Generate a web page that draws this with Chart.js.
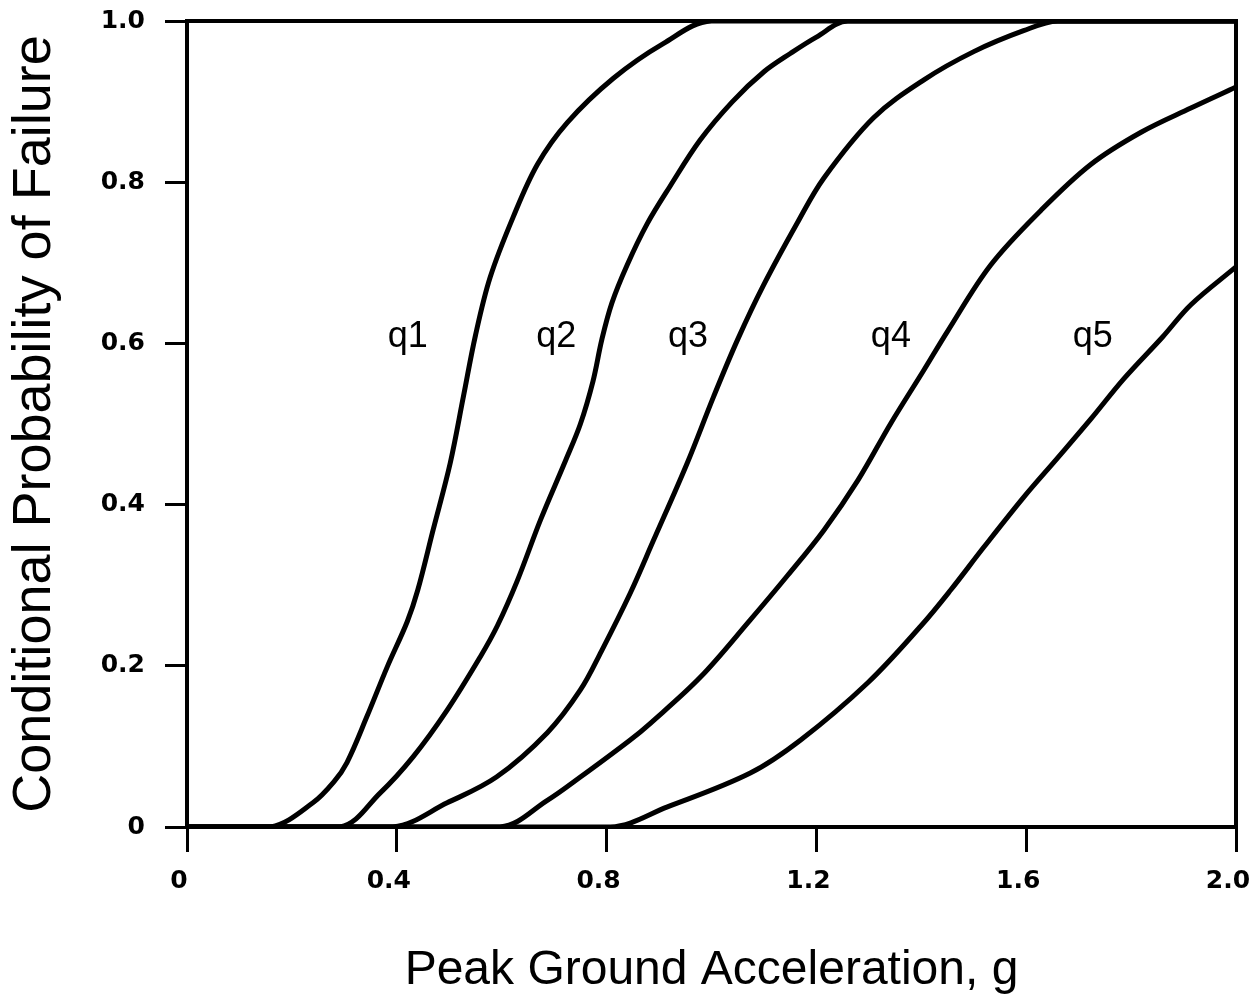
<!DOCTYPE html>
<html>
<head>
<meta charset="utf-8">
<script src="https://cdn.jsdelivr.net/npm/chart.js@4"></script>
<style>
  html, body { margin: 0; padding: 0; background: #ffffff; }
  #wrap { width: 1255px; height: 1000px; }
</style>
</head>
<body>
<div id="wrap"><canvas id="c" width="1255" height="1000"></canvas></div>
<script>
// ---- data ----
const xTickLabels = ["0", "0.4", "0.8", "1.2", "1.6", "2.0"];
const yTickLabels = ["0", "0.2", "0.4", "0.6", "0.8", "1.0"];

const pgaQ1  = [0, 0.16, 0.24, 0.28, 0.305, 0.343, 0.382, 0.42, 0.44, 0.469, 0.502, 0.527, 0.55, 0.578, 0.622, 0.668, 0.725, 0.813, 0.908, 1.0, 2.0];
const probQ1 = [0, 0, 0.03, 0.056, 0.08, 0.137, 0.199, 0.255, 0.294, 0.368, 0.452, 0.534, 0.61, 0.682, 0.757, 0.822, 0.874, 0.929, 0.972, 1.0, 1.0];

const pgaQ2  = [0, 0.292, 0.368, 0.431, 0.496, 0.559, 0.592, 0.63, 0.674, 0.722, 0.75, 0.774, 0.791, 0.81, 0.839, 0.877, 0.921, 0.978, 1.04, 1.1, 1.151, 1.2, 1.26, 2.0];
const probQ2 = [0, 0, 0.042, 0.087, 0.145, 0.211, 0.25, 0.306, 0.381, 0.455, 0.5, 0.553, 0.605, 0.65, 0.697, 0.748, 0.795, 0.852, 0.9, 0.937, 0.96, 0.98, 1.0, 1.0];

const pgaQ3  = [0, 0.393, 0.496, 0.59, 0.687, 0.75, 0.79, 0.845, 0.889, 0.954, 1.004, 1.05, 1.099, 1.164, 1.214, 1.309, 1.405, 1.5, 1.595, 1.66, 2.0];
const probQ3 = [0, 0, 0.03, 0.062, 0.117, 0.17, 0.218, 0.29, 0.355, 0.452, 0.534, 0.605, 0.672, 0.75, 0.805, 0.88, 0.927, 0.962, 0.988, 1.0, 1.0];

const pgaQ4  = [0, 0.597, 0.687, 0.75, 0.845, 0.884, 0.979, 1.074, 1.145, 1.214, 1.279, 1.342, 1.405, 1.45, 1.532, 1.628, 1.723, 1.819, 1.914, 2.0];
const probQ4 = [0, 0, 0.033, 0.062, 0.108, 0.129, 0.186, 0.257, 0.312, 0.368, 0.43, 0.501, 0.567, 0.615, 0.697, 0.765, 0.822, 0.862, 0.892, 0.918];

const pgaQ5  = [0, 0.807, 0.916, 1.074, 1.17, 1.298, 1.4, 1.456, 1.519, 1.595, 1.66, 1.723, 1.786, 1.86, 1.914, 2.0];
const probQ5 = [0, 0, 0.025, 0.067, 0.108, 0.179, 0.25, 0.294, 0.347, 0.409, 0.458, 0.506, 0.556, 0.608, 0.648, 0.695];

const curveNames = ["q1", "q2", "q3", "q4", "q5"];
const labelPga  = [0.421, 0.704, 0.955, 1.342, 1.727];
const labelProb = [0.595, 0.595, 0.595, 0.595, 0.595];

const xTitle = "Peak Ground Acceleration, g";
const yTitle = "Conditional Probability of Failure";

// ---- build ----
const FONT = "'Liberation Sans', Arial, Helvetica, sans-serif";
const TICKFONT = "'DejaVu Sans', 'Liberation Sans', Arial, sans-serif";
const pgaSets  = [pgaQ1, pgaQ2, pgaQ3, pgaQ4, pgaQ5];
const probSets = [probQ1, probQ2, probQ3, probQ4, probQ5];

const datasets = curveNames.map((name, i) => ({
  label: name,
  data: pgaSets[i].map((x, j) => ({ x: x, y: probSets[i][j] })),
  borderColor: '#000000',
  borderWidth: 5,
  pointRadius: 0,
  fill: false,
  tension: 0.35,
  borderCapStyle: 'round',
  borderJoinStyle: 'round'
}));

const frame = {
  id: 'frame',
  beforeDraw(chart) {
    const ctx = chart.ctx;
    ctx.save();
    ctx.fillStyle = '#ffffff';
    ctx.fillRect(0, 0, chart.width, chart.height);
    ctx.restore();
  },
  afterDatasetsDraw(chart) {
    const ctx = chart.ctx;
    const a = chart.chartArea;
    ctx.save();
    ctx.strokeStyle = '#000000';
    ctx.lineWidth = 4;
    ctx.strokeRect(a.left, a.top, a.right - a.left, a.bottom - a.top);
    // curve labels
    const xs = chart.scales.x, ys = chart.scales.y;
    ctx.fillStyle = '#000000';
    ctx.font = "36px " + FONT;
    ctx.textAlign = 'center';
    ctx.textBaseline = 'alphabetic';
    curveNames.forEach((n, i) => {
      ctx.fillText(n, xs.getPixelForValue(labelPga[i]), ys.getPixelForValue(labelProb[i]));
    });
    ctx.restore();
  }
};

function zeroPad(s) {
  s.paddingTop = 0; s.paddingBottom = 0; s.paddingLeft = 0; s.paddingRight = 0;
}

new Chart(document.getElementById('c'), {
  type: 'line',
  data: { datasets: datasets },
  plugins: [frame],
  options: {
    responsive: false,
    animation: false,
    events: [],
    layout: { padding: { top: 21, right: 19, left: 0, bottom: 0 } },
    plugins: { legend: { display: false }, tooltip: { enabled: false } },
    scales: {
      x: {
        type: 'linear',
        min: 0, max: 2,
        afterFit(s) { s.height = 173; zeroPad(s); },
        afterBuildTicks(s) { s.ticks = xTickLabels.map(t => ({ value: parseFloat(t) })); },
        ticks: {
          callback: (v, i) => xTickLabels[i],
          color: '#000000',
          font: { family: TICKFONT, size: 25, weight: 'bold' },
          padding: 14,
          labelOffset: -8,
          maxRotation: 0,
          autoSkip: false
        },
        grid: { drawOnChartArea: false, drawTicks: true, tickLength: 25, color: '#000000', lineWidth: 3 },
        border: { display: true, color: '#000000', width: 4 },
        title: {
          display: true, text: xTitle, color: '#000000',
          font: { family: FONT, size: 48, weight: 'normal' },
          padding: { top: 0, bottom: 0 }
        }
      },
      y: {
        type: 'linear',
        min: 0, max: 1,
        afterFit(s) { s.width = 187; zeroPad(s); },
        afterBuildTicks(s) { s.ticks = yTickLabels.map(t => ({ value: parseFloat(t) })); },
        ticks: {
          callback: (v, i) => yTickLabels[i],
          color: '#000000',
          font: { family: TICKFONT, size: 25, weight: 'bold' },
          padding: 20,
          autoSkip: false
        },
        grid: { drawOnChartArea: false, drawTicks: true, tickLength: 22, color: '#000000', lineWidth: 3 },
        border: { display: true, color: '#000000', width: 4 },
        title: {
          display: true, text: yTitle, color: '#000000',
          font: { family: FONT, size: 54, weight: 'normal' },
          padding: { top: 3, bottom: 0 }
        }
      }
    }
  }
});
</script>
</body>
</html>
